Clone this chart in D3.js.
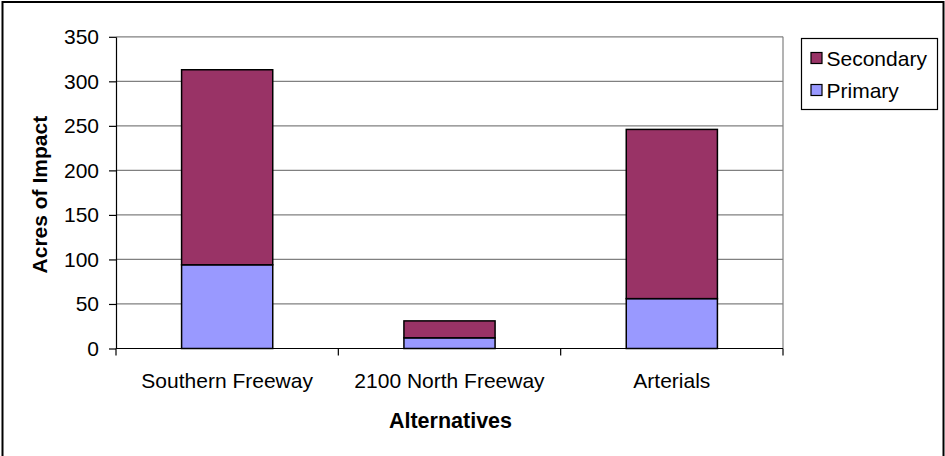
<!DOCTYPE html>
<html>
<head>
<meta charset="utf-8">
<script src="https://cdn.jsdelivr.net/npm/d3@7"></script>
<style>
  html, body { margin: 0; padding: 0; background: #fff; }
  svg { display: block; font-family: "Liberation Sans", Arial, sans-serif; }
</style>
</head>
<body>
<svg id="chart" width="945" height="456"></svg>
<script>
// Acres of impact per alternative, split by impact type
const categories = ["Southern Freeway", "2100 North Freeway", "Arterials"];
const primary = [94, 12, 56];
const secondary = [219, 19, 190];
const seriesNames = ["Primary", "Secondary"];
const seriesColors = ["#9999FF", "#993366"];
const yTicks = [0, 50, 100, 150, 200, 250, 300, 350];

const W = 945, H = 456;
const plot = { left: 116, right: 783, top: 36.8, bottom: 348.5 };

const svg = d3.select("#chart");

// outer chart frame
svg.append("rect")
  .attr("x", 2.5).attr("y", 2).attr("width", W - 4).attr("height", H + 10)
  .attr("fill", "#fff").attr("stroke", "#000").attr("stroke-width", 2);

const rows = categories.map((c, i) => ({ cat: c, Primary: primary[i], Secondary: secondary[i] }));
const stacked = d3.stack().keys(seriesNames)(rows);

const x = d3.scaleBand().domain(categories).range([plot.left, plot.right]).padding(0);
const xBar = d3.scaleBand().domain(categories).range([plot.left, plot.right])
  .paddingInner(0.59).paddingOuter(0.295);
const y = d3.scaleLinear().domain([0, 350]).range([plot.bottom, plot.top]);

// horizontal gridlines
svg.append("g")
  .selectAll("line")
  .data(yTicks.filter(t => t > 0))
  .join("line")
  .attr("x1", plot.left).attr("x2", plot.right)
  .attr("y1", d => y(d)).attr("y2", d => y(d))
  .attr("stroke", "#808080").attr("stroke-width", 1.2);

// right edge of the plot area
svg.append("line")
  .attr("x1", plot.right).attr("x2", plot.right)
  .attr("y1", plot.top).attr("y2", plot.bottom)
  .attr("stroke", "#808080").attr("stroke-width", 1.2);

// stacked bars
svg.append("g")
  .selectAll("g")
  .data(stacked)
  .join("g")
  .attr("fill", (d, i) => seriesColors[i])
  .selectAll("rect")
  .data(d => d)
  .join("rect")
  .attr("x", d => xBar(d.data.cat))
  .attr("width", xBar.bandwidth())
  .attr("y", d => y(d[1]))
  .attr("height", d => y(d[0]) - y(d[1]))
  .attr("stroke", "#000").attr("stroke-width", 1.5);

// y axis
const yAxis = svg.append("g")
  .attr("transform", `translate(${plot.left},0)`)
  .call(d3.axisLeft(y).tickValues(yTicks).tickSize(7).tickPadding(10).tickSizeOuter(0));
yAxis.select(".domain").attr("stroke", "#000").attr("stroke-width", 1.2);
yAxis.selectAll(".tick line").attr("stroke", "#000").attr("stroke-width", 1.2);
yAxis.selectAll(".tick text")
  .attr("font-size", 21).attr("fill", "#000")
  .attr("font-family", "'Liberation Sans', Arial, sans-serif");

// x axis: ticks at category boundaries
const xAxisG = svg.append("g");
xAxisG.append("line")
  .attr("x1", plot.left).attr("x2", plot.right)
  .attr("y1", plot.bottom).attr("y2", plot.bottom)
  .attr("stroke", "#000").attr("stroke-width", 1.2);
const bounds = categories.map(c => x(c)).concat([x(categories[categories.length - 1]) + x.bandwidth()]);
xAxisG.selectAll("line.tk")
  .data(bounds)
  .join("line").attr("class", "tk")
  .attr("x1", d => d).attr("x2", d => d)
  .attr("y1", plot.bottom).attr("y2", plot.bottom + 7)
  .attr("stroke", "#000").attr("stroke-width", 1.2);
xAxisG.selectAll("text")
  .data(categories)
  .join("text")
  .attr("x", d => x(d) + x.bandwidth() / 2)
  .attr("y", 387.5)
  .attr("text-anchor", "middle")
  .attr("font-size", 21)
  .text(d => d);

// axis titles
svg.append("text")
  .attr("x", (plot.left + plot.right) / 2 + 1)
  .attr("y", 427.5)
  .attr("text-anchor", "middle")
  .attr("font-size", 21.5).attr("font-weight", "bold")
  .text("Alternatives");

svg.append("text")
  .attr("transform", `translate(46.5,${(plot.top + plot.bottom) / 2 + 2}) rotate(-90)`)
  .attr("text-anchor", "middle")
  .attr("font-size", 21).attr("font-weight", "bold")
  .text("Acres of Impact");

// legend (Secondary listed first, as stacked top-down)
const legend = svg.append("g");
legend.append("rect")
  .attr("x", 801.5).attr("y", 38.5).attr("width", 136).attr("height", 71)
  .attr("fill", "#fff").attr("stroke", "#000").attr("stroke-width", 1.2);
const legendItems = [
  { name: seriesNames[1], color: seriesColors[1], cy: 58 },
  { name: seriesNames[0], color: seriesColors[0], cy: 90 }
];
const li = legend.selectAll("g.item").data(legendItems).join("g").attr("class", "item");
li.append("rect")
  .attr("x", 811).attr("y", d => d.cy - 5.5)
  .attr("width", 11).attr("height", 11)
  .attr("fill", d => d.color).attr("stroke", "#000").attr("stroke-width", 1.2);
li.append("text")
  .attr("x", 826.5).attr("y", d => d.cy + 7.5)
  .attr("font-size", 21)
  .text(d => d.name);
</script>
</body>
</html>
